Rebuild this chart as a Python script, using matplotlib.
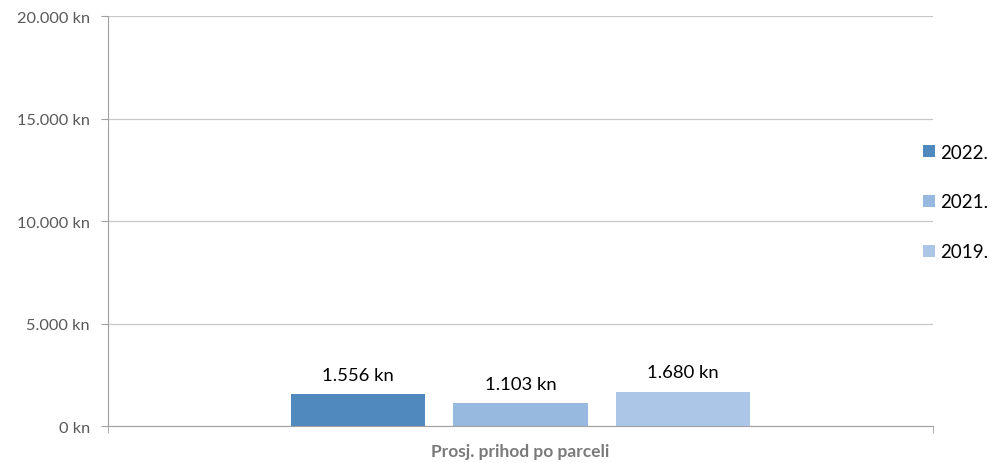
import matplotlib.pyplot as plt
import numpy as np

plt.rcParams['font.family'] = ['Lato', 'DejaVu Sans']

years = ['2022.', '2021.', '2019.']
values = [1556, 1103, 1680]
colors = ['#4f89bd', '#97b9df', '#abc6e6']
category = 'Prosj. prihod po parceli'

def fmt_kn(v):
    return f'{int(v):,}'.replace(',', '.') + ' kn'

fig = plt.figure(figsize=(9.9, 4.64), dpi=100)
ax = fig.add_axes([0.1091, 0.0797, 0.8333, 0.8836])

width = 0.163
step = 0.197
for i, (yr, val, col) in enumerate(zip(years, values, colors)):
    xpos = (i - 1) * step
    ax.bar(xpos, val, width, color=col, label=yr, zorder=3)
    ax.annotate(fmt_kn(val), (xpos, val), xytext=(0, 8), textcoords='offset points',
                ha='center', va='bottom', fontsize=13.3, color='black')

ax.set_xlim(-0.5, 0.5)
ax.set_ylim(0, 20000)
ax.set_yticks(np.arange(0, 20001, 5000))
ax.set_yticklabels([fmt_kn(v) for v in np.arange(0, 20001, 5000)])
ax.grid(axis='y', color='#c8c8c8', linewidth=0.9, zorder=0)

ax.set_xticks([0])
ax.set_xticklabels([category], fontsize=12.5, fontweight='bold', color='#7a7a7a')
ax.tick_params(axis='x', which='major', length=0, pad=12)
ax.set_xticks([-0.5, 0.5], minor=True)
ax.tick_params(axis='x', which='minor', length=5, color='#a0a0a0')
ax.tick_params(axis='y', length=5, color='#a0a0a0', labelsize=11.8, labelcolor='#595959', pad=8)

for s in ['top', 'right']:
    ax.spines[s].set_visible(False)
for s in ['left', 'bottom']:
    ax.spines[s].set_color('#a0a0a0')

fig.legend(loc='center left', bbox_to_anchor=(0.925, 0.5625), frameon=False,
           handlelength=0.6, handleheight=0.6, handletextpad=0.3,
           labelspacing=1.75, fontsize=13.5, borderaxespad=0)

plt.savefig('out.png', dpi=100)
plt.close()
